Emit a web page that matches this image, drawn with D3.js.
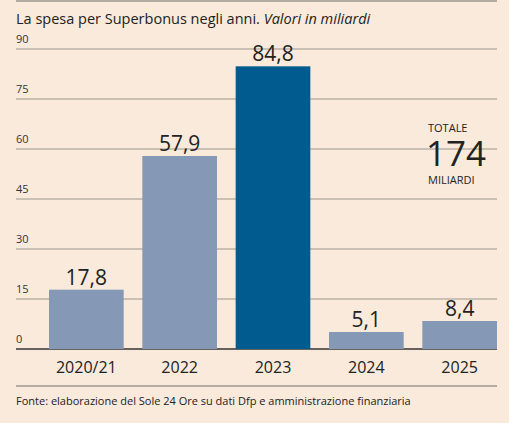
<!DOCTYPE html>
<html><head><meta charset="utf-8">
<script src="https://cdn.jsdelivr.net/npm/d3@7"></script>
<style>body{margin:0;background:#f9eadb;}text{font-family:"Open Sans",sans-serif;}</style>
</head><body><svg id="chart" width="509" height="423"></svg>
<script>
var categories = ["2020/21", "2022", "2023", "2024", "2025"];
var values = [17.8, 57.9, 84.8, 5.1, 8.4];
var labels = ["17,8", "57,9", "84,8", "5,1", "8,4"];
var ticks = [0, 15, 30, 45, 60, 75, 90];
var highlight = "2023";

var svg = d3.select("#chart");
svg.append("rect").attr("width", 509).attr("height", 423).attr("fill", "#f9eadb");

var x = d3.scaleBand().domain(categories).range([49, 497]).paddingInner(0.2).paddingOuter(0);
var y = d3.scaleLinear().domain([0, 90]).range([349, 49]);

svg.append("line").attr("x1", 16).attr("x2", 497).attr("y1", 1).attr("y2", 1).attr("stroke", "#9c968e").attr("stroke-width", 1.5);
svg.append("text").attr("x", 16).attr("y", 24).attr("font-size", 14.5).attr("fill", "#222")
  .text("La spesa per Superbonus negli anni. ")
  .append("tspan").attr("font-style", "italic").text("Valori in miliardi");

ticks.forEach(function(t) {
  svg.append("line").attr("x1", 16).attr("x2", 497).attr("y1", y(t)).attr("y2", y(t))
    .attr("stroke", t === 0 ? "#333" : "#9c968e").attr("stroke-width", t === 0 ? 1.5 : 1);
  svg.append("text").attr("x", 16).attr("y", y(t) - 6).attr("font-size", 11).attr("fill", "#333").text(t);
});

svg.selectAll(".bar").data(values).enter().append("rect")
  .attr("x", function(d, i) { return x(categories[i]); })
  .attr("y", function(d) { return y(d); })
  .attr("width", x.bandwidth())
  .attr("height", function(d) { return y(0) - y(d); })
  .attr("fill", function(d, i) { return categories[i] === highlight ? "#015b8e" : "#8599b7"; });

svg.selectAll(".val").data(values).enter().append("text")
  .attr("x", function(d, i) { return x(categories[i]) + x.bandwidth() / 2; })
  .attr("y", function(d) { return y(d) - 5; })
  .attr("text-anchor", "middle").attr("font-size", 21).attr("fill", "#222")
  .text(function(d, i) { return labels[i]; });

svg.selectAll(".cat").data(categories).enter().append("text")
  .attr("x", function(d) { return x(d) + x.bandwidth() / 2; })
  .attr("y", 373).attr("text-anchor", "middle").attr("font-size", 16).attr("fill", "#222")
  .text(function(d) { return d; });

svg.append("text").attr("x", 428).attr("y", 132).attr("font-size", 11).attr("fill", "#222").text("TOTALE");
svg.append("text").attr("x", 426).attr("y", 166).attr("font-size", 35).attr("fill", "#222").text("174");
svg.append("text").attr("x", 428).attr("y", 184).attr("font-size", 11).attr("fill", "#222").text("MILIARDI");

svg.append("line").attr("x1", 16).attr("x2", 497).attr("y1", 386).attr("y2", 386).attr("stroke", "#9c968e").attr("stroke-width", 1.5);
svg.append("text").attr("x", 16).attr("y", 405).attr("font-size", 11).attr("fill", "#222")
  .text("Fonte: elaborazione del Sole 24 Ore su dati Dfp e amministrazione finanziaria");
</script></body></html>
